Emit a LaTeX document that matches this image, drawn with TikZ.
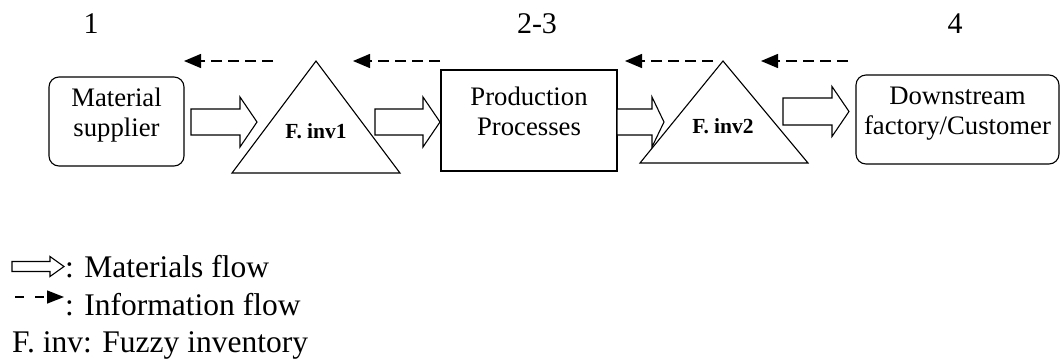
\documentclass[tikz,border=0pt]{standalone}
\usepackage{fontspec}
\setmainfont{Liberation Serif}
\usepackage{tikz}
\usetikzlibrary{arrows.meta}

% fat arrow: tail, length, head length, half shaft, half head
\newcommand\matarrow[5]{%
  \draw[matflow] (#1) ++(0,-#4) -- ++({#2-#3},0) -- ++(0,{#4-#5})
    -- ++(#3,#5) -- ++(-#3,#5) -- ++(0,{#4-#5}) -- ++({#3-#2},0) -- cycle;}
\newcommand\lowstrut{\rule[-18pt]{0pt}{1pt}}

\begin{document}
\begin{tikzpicture}[x=1pt,y=-1pt,
    boxtext/.style={font=\fontsize{26.7}{30}\selectfont,align=center},
    procbox/.style={draw,line width=1.1pt,inner sep=0pt,boxtext},
    invlabel/.style={font=\fontsize{21.5}{23}\selectfont\bfseries,inner sep=0pt,anchor=base},
    matflow/.style={draw,line width=1.1pt,fill=white,line join=miter},
    infoflow/.style={line width=1.4pt,dash pattern=on 11pt off 6pt,
      -{Triangle[length=17pt,width=14pt]}},
    numlabel/.style={font=\fontsize{30}{32}\selectfont,inner sep=0pt,anchor=base},
    legtext/.style={font=\fontsize{31.5}{34}\selectfont,inner sep=0pt,anchor=base west}]
  \useasboundingbox (0,0) rectangle (1061,360);

  % stage numbers
  \node[numlabel] (n1)  at (91,33)  {1};
  \node[numlabel] (n23) at (537,33) {2-3};
  \node[numlabel] (n4)  at (955,33) {4};

  % boxes
  \node[procbox,rounded corners=10pt,minimum width=135pt,minimum height=89pt]
    (supplier) at (116.5,121.5) {Material\\supplier\lowstrut};
  \node[procbox,minimum width=176pt,minimum height=101pt]
    (prod) at (529,120.5) {Production\\Processes\lowstrut};
  \node[procbox,rounded corners=10pt,minimum width=203pt,minimum height=89pt]
    (down) at (957.5,119.5) {Downstream\\factory/Customer\lowstrut};

  % fuzzy inventories
  \draw[line width=1.1pt,line join=miter] (232,173) -- (316,61) -- (400,173) -- cycle;
  \node[invlabel] (inv1) at (316,138) {F. inv1};
  \draw[line width=1.1pt,line join=miter] (640,163) -- (723,61) -- (808,163) -- cycle;
  \node[invlabel] (inv2) at (723,133) {F. inv2};

  % materials flow
  \coordinate (m1) at (191,122);
  \coordinate (m2) at (375,122);
  \coordinate (m3) at (617,122);
  \coordinate (m4) at (783,111.5);
  \matarrow{m1}{66}{17}{13}{25}
  \matarrow{m2}{65}{17}{13}{25}
  \matarrow{m3}{47}{12}{13}{25}
  \matarrow{m4}{66}{17}{13.5}{25}

  % information flow
  \coordinate (i1s) at (273,61); \coordinate (i1e) at (184,61);
  \coordinate (i2s) at (440,61); \coordinate (i2e) at (353,61);
  \coordinate (i3s) at (713,61); \coordinate (i3e) at (625,61);
  \coordinate (i4s) at (848,61); \coordinate (i4e) at (761,61);
  \draw[infoflow] (i1s) -- (i1e);
  \draw[infoflow] (i2s) -- (i2e);
  \draw[infoflow] (i3s) -- (i3e);
  \draw[infoflow] (i4s) -- (i4e);

  % legend
  \coordinate (lm) at (12,266.5);
  \matarrow{lm}{52}{14}{5}{10}
  \node[legtext] (lmat) at (65,277) {: Materials flow};
  \coordinate (lis) at (15,297); \coordinate (lie) at (64,297);
  \draw[infoflow,dash pattern=on 9pt off 11pt,
    -{Triangle[length=17pt,width=13pt]}] (lis) -- (lie);
  \node[legtext] (linf) at (65,315) {: Information flow};
  \node[legtext] (linv) at (12,352) {F. inv: Fuzzy inventory};
\end{tikzpicture}
\end{document}
